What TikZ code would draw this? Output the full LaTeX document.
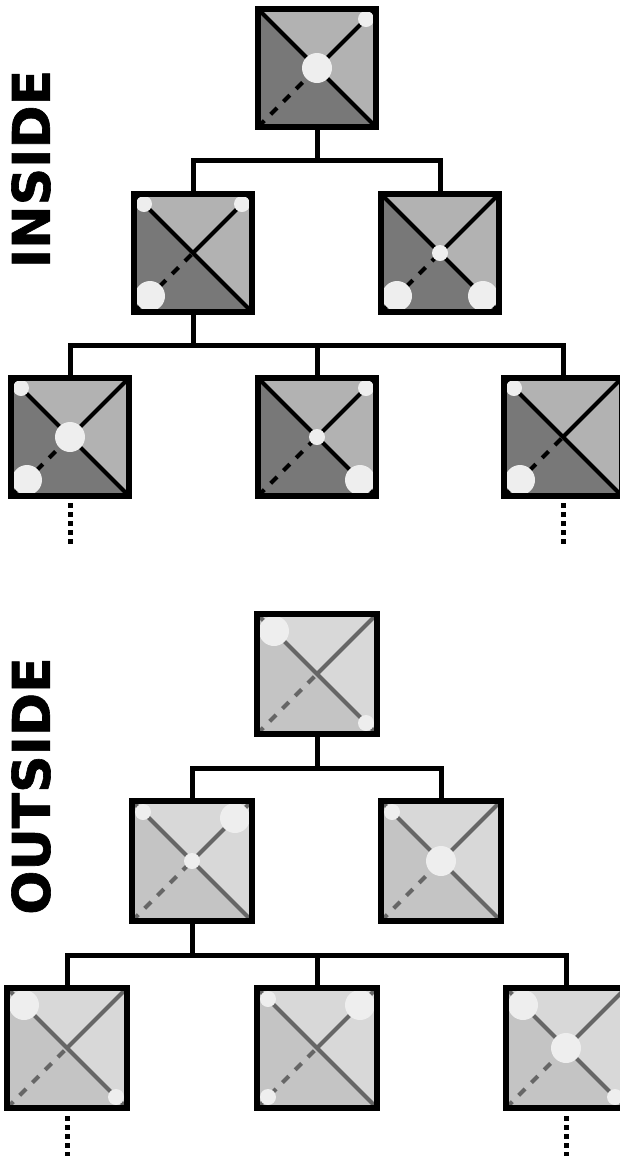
\documentclass[tikz,border=0pt]{standalone}
\usepackage{fontspec}
\setmainfont{DejaVu Sans}
\newfontfamily\lblfont[BoldFeatures={FakeBold=1.2}]{DejaVu Sans}
\definecolor{inDark}{HTML}{787878}
\definecolor{inLight}{HTML}{B2B2B2}
\definecolor{outDark}{HTML}{C4C4C4}
\definecolor{outLight}{HTML}{D8D8D8}
\definecolor{outLine}{HTML}{666666}
\definecolor{spotFill}{HTML}{EEEEEE}
\begin{document}
\begin{tikzpicture}[x=1pt,y=-1pt,
  tile dark/.store in=\tdark,
  tile light/.store in=\tlight,
  tile line/.store in=\tline,
  spots/.store in=\spotlist,
  tile/.style={shape=rectangle, draw=black, line width=6pt,
    minimum size=#1, inner sep=0pt, outer sep=0pt,
    path picture={
      \fill[\tlight] (path picture bounding box.north west) rectangle (path picture bounding box.south east);
      \fill[\tdark] (path picture bounding box.north west) -- (path picture bounding box.south west)
        -- (path picture bounding box.south east) -- cycle;
      \draw[line width=4.2pt, draw=\tline] (path picture bounding box.north west) -- (path picture bounding box.south east);
      \draw[line width=4.2pt, draw=\tline] (path picture bounding box.center) -- (path picture bounding box.north east);
      \draw[line width=4.2pt, draw=\tline, dash pattern=on 9pt off 9pt]
        (path picture bounding box.south west) -- (path picture bounding box.center);
      \foreach \dx/\dy/\sz in \spotlist {
        \pgfmathsetmacro\rr{\sz==1 ? 8 : 15}
        \pgfmathsetmacro\dd{\sz==1 ? 49 : 43}
        \fill[spotFill] ([shift={(\dx*\dd,\dy*\dd)}]path picture bounding box.center) circle[radius=\rr pt];
      }
    }},
  inbox/.style={tile=118pt, tile dark=inDark, tile light=inLight, tile line=black, spots={#1}},
  outbox/.style={tile=120pt, tile dark=outDark, tile light=outLight, tile line=outLine, spots={#1}},
  link/.style={draw=black, line width=5pt},
  more/.style={draw=black, line width=5pt, dash pattern=on 4.5pt off 4.5pt},
  label/.style={rotate=90, font=\fontsize{52}{52}\lblfont\bfseries},
]
\useasboundingbox (0,0) rectangle (620,1160);
\clip (0,0) rectangle (620,1160);

% ---- INSIDE tree ----
\node[label] (lblIn) at (31,169) {INSIDE};
\node[inbox={1/-1/1, 0/0/2}] (it) at (317,68) {};
\node[inbox={-1/-1/1, 1/-1/1, -1/1/2}] (ia) at (193,253) {};
\node[inbox={0/0/1, -1/1/2, 1/1/2}] (ib) at (440,253) {};
\node[inbox={-1/-1/1, 0/0/2, -1/1/2}] (il) at (70,437) {};
\node[inbox={1/-1/1, 0/0/1, 1/1/2}] (im) at (317,437) {};
\node[inbox={-1/-1/1, -1/1/2}] (ir) at (563,437) {};

\coordinate (ij1) at (317,160);
\coordinate (ij2) at (193,345);
\draw[link] (it.south) -- (ij1);
\draw[link] (ia.north) |- (ij1) -| (ib.north);
\draw[link] (ia.south) -- (ij2);
\draw[link] (il.north) |- (ij2) -| (ir.north);
\draw[link] (im.north) -- (im.north |- ij2);

\coordinate (ile) at (70,544);
\coordinate (ire) at (563,544);
\draw[more, shorten <=7pt] (il.south) -- (ile);
\draw[more, shorten <=7pt] (ir.south) -- (ire);

% ---- OUTSIDE tree ----
\node[label] (lblOut) at (31,786) {OUTSIDE};
\node[outbox={-1/-1/2, 1/1/1}] (ot) at (317,674) {};
\node[outbox={-1/-1/1, 1/-1/2, 0/0/1}] (oa) at (192,861) {};
\node[outbox={-1/-1/1, 0/0/2}] (ob) at (441,861) {};
\node[outbox={-1/-1/2, 1/1/1}] (ol) at (67,1048) {};
\node[outbox={-1/-1/1, 1/-1/2, -1/1/1}] (om) at (317,1048) {};
\node[outbox={-1/-1/2, 0/0/2, 1/1/1}] (or) at (566,1048) {};

\coordinate (oj1) at (317,768);
\coordinate (oj2) at (192,955);
\draw[link] (ot.south) -- (oj1);
\draw[link] (oa.north) |- (oj1) -| (ob.north);
\draw[link] (oa.south) -- (oj2);
\draw[link] (ol.north) |- (oj2) -| (or.north);
\draw[link] (om.north) -- (om.north |- oj2);

\coordinate (ole) at (67,1156);
\coordinate (ore) at (566,1156);
\draw[more, shorten <=8pt] (ol.south) -- (ole);
\draw[more, shorten <=8pt] (or.south) -- (ore);
\end{tikzpicture}
\end{document}
